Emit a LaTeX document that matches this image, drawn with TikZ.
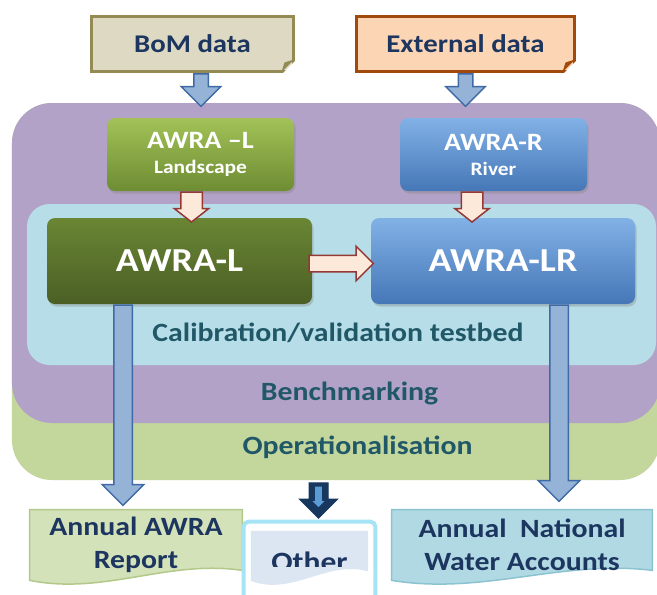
\documentclass[tikz,border=0pt]{standalone}
\usepackage{fontspec}
\setmainfont{Carlito}[FakeStretch=1.13]
\usetikzlibrary{shapes.arrows,shadows,backgrounds,calc}

\definecolor{bomfill}{HTML}{DDD9C3}
\definecolor{bomedge}{HTML}{948A54}
\definecolor{extfill}{HTML}{FCD5B5}
\definecolor{extedge}{HTML}{A14A0C}
\definecolor{labelnavy}{HTML}{1C3660}
\definecolor{bandteal}{HTML}{215868}
\definecolor{benchpurple}{HTML}{B3A2C7}
\definecolor{opgreen}{HTML}{C3D69B}
\definecolor{testblue}{HTML}{B7DEE8}
\definecolor{lgreentop}{HTML}{A2C257}
\definecolor{lgreenbot}{HTML}{6E8C33}
\definecolor{dgreentop}{HTML}{6A8634}
\definecolor{dgreenbot}{HTML}{4B5F25}
\definecolor{mbluetop}{HTML}{82B1E6}
\definecolor{mbluebot}{HTML}{4577B7}
\definecolor{arrowblue}{HTML}{95B3D7}
\definecolor{arrowblueedge}{HTML}{3F6AA5}
\definecolor{arrowpink}{HTML}{FDE9D9}
\definecolor{arrowred}{HTML}{953735}
\definecolor{arrownavy}{HTML}{17375E}
\definecolor{arrowlight}{HTML}{5B9BD5}
\definecolor{reportfill}{HTML}{D4E2BA}
\definecolor{reportedge}{HTML}{B3C98A}
\definecolor{nwafill}{HTML}{B0D9E3}
\definecolor{nwaedge}{HTML}{8CC3D1}
\definecolor{otherfill}{HTML}{DCE6F2}
\definecolor{otherglow}{HTML}{A6E4F5}

% block arrows from a tail point down / right to a target point
\newcommand{\blockdown}[3]{%
  \path let \p1=(#2), \p2=(#3) in
    node[#1, shape border rotate=270, anchor=tail, minimum height={(\y1)-(\y2)}] at (\p1) {};}
\newcommand{\blockright}[3]{%
  \path let \p1=(#2), \p2=(#3) in
    node[#1, shape border rotate=0, anchor=tail, minimum height={(\x2)-(\x1)}] at (\p1) {};}
% page with a wavy bottom behind a node
\newcommand{\docshape}[3]{%
  \filldraw[fill=#2, draw=#3, line width=0.03cm] (#1.north west) -- (#1.north east) -- ([yshift=0.2cm]#1.south east)
    .. controls ($(#1.south east)!0.35!(#1.south west)+(0,0.42)$) and ($(#1.south east)!0.65!(#1.south west)+(0,-0.3)$) .. (#1.south west) -- cycle;}
% folded bottom right corner
\newcommand{\foldcorner}[2]{%
  \fill[white] ([xshift=-0.24cm]#1.south east) -- (#1.south east) -- ([yshift=0.24cm]#1.south east) -- cycle;
  \fill[#2] ([xshift=-0.27cm,yshift=0.02cm]#1.south east) -- ([xshift=-0.02cm,yshift=0.27cm]#1.south east) -- ([xshift=-0.21cm,yshift=0.21cm]#1.south east) -- cycle;}

\begin{document}
\begin{tikzpicture}[
  databox/.style={draw, line width=0.06cm, minimum height=1.1cm, text=labelnavy, font=\fontsize{14.5}{17}\selectfont\bfseries},
  panel/.style={rounded corners=0.8cm, minimum width=12.96cm, inner sep=0pt},
  band/.style={anchor=base, text=bandteal, font=\fontsize{15}{18}\selectfont\bfseries},
  model/.style={rounded corners=0.16cm, text=white, align=center,
    drop shadow={opacity=0.35, shadow xshift=0.03cm, shadow yshift=-0.05cm}},
  lmodel/.style={model, top color=lgreentop, bottom color=lgreenbot},
  dmodel/.style={model, top color=dgreentop, bottom color=dgreenbot},
  bmodel/.style={model, top color=mbluetop, bottom color=mbluebot},
  product/.style={align=center, text=labelnavy, font=\fontsize{15}{19}\selectfont\bfseries, minimum height=1.4cm, inner sep=0pt},
  feedarrow/.style={single arrow, draw=arrowblueedge, fill=arrowblue, line width=0.03cm, inner sep=0.13cm, single arrow head extend=0.25cm},
  longarrow/.style={feedarrow, inner sep=0.17cm, single arrow head extend=0.23cm},
  pinkdown/.style={single arrow, draw=arrowred, fill=arrowpink, line width=0.03cm, inner sep=0.2cm, single arrow head extend=0.13cm, single arrow tip angle=104},
  pinkright/.style={pinkdown, inner sep=0.15cm, single arrow head extend=0.18cm, single arrow tip angle=90},
  navyarrow/.style={single arrow, draw=arrownavy, fill=arrownavy, line width=0.02cm, inner sep=0.18cm, single arrow head extend=0.19cm},
  navystripe/.style={single arrow, fill=arrowlight, inner sep=0.06cm, single arrow head extend=0.05cm}
]
\useasboundingbox (0,0) rectangle (13.14,-11.88);

% nested panels
\node[panel, fill=opgreen, minimum height=7.54cm] (oppanel) at (6.72,-5.83) {};
\node[panel, fill=benchpurple, minimum height=6.4cm] (benchpanel) at (6.72,-5.26) {};
\node[panel, fill=testblue, minimum width=12.58cm, minimum height=3.22cm, rounded corners=0.45cm] (testpanel) at (6.83,-5.69) {};
\node[band] (calib) at (6.76,-6.82) {Calibration/validation testbed};
\node[band] (bench) at (6.99,-8.0) {Benchmarking};
\node[band] (oper) at (7.15,-9.08) {Operationalisation};

% data sources
\node[databox, fill=bomfill, draw=bomedge, minimum width=4.04cm] (bom) at (3.85,-0.88) {BoM data};
\node[databox, fill=extfill, draw=extedge, minimum width=4.36cm] (ext) at (9.31,-0.88) {External data};
\foldcorner{bom}{bomedge}
\foldcorner{ext}{extedge}

% models
\node[lmodel, minimum width=3.74cm, minimum height=1.46cm, font=\fontsize{14.2}{14.2}\selectfont\bfseries] (landscape) at (4.01,-3.09) {AWRA –L\\{\fontsize{10.8}{13}\selectfont Landscape}};
\node[bmodel, minimum width=3.74cm, minimum height=1.46cm, font=\fontsize{14.2}{14.2}\selectfont\bfseries] (river) at (9.87,-3.09) {AWRA-R\\{\fontsize{10.8}{13}\selectfont River}};
\node[dmodel, minimum width=5.3cm, minimum height=1.72cm, font=\fontsize{19.1}{22}\selectfont\bfseries] (awral) at (3.59,-5.22) {AWRA-L};
\node[bmodel, minimum width=5.28cm, minimum height=1.72cm, font=\fontsize{19.1}{22}\selectfont\bfseries] (awralr) at (10.06,-5.22) {AWRA-LR};

% products
\node[product, minimum width=4.24cm] (report) at (2.72,-10.9) {Annual AWRA\\Report};
\node[product, minimum width=5.2cm] (nwa) at (10.44,-10.9) {Annual\ \ National\\Water Accounts};
\node[minimum width=2.3cm, minimum height=0.96cm, inner sep=0pt] (other) at (6.19,-11.12) {};
\begin{scope}[on background layer]
  \docshape{report}{reportfill}{reportedge}
  \docshape{nwa}{nwafill}{nwaedge}
  \filldraw[fill=white, draw=otherglow, line width=0.08cm, rounded corners=0.1cm] ([shift={(-0.16,0.2)}]other.north west) rectangle ([shift={(0.16,-0.4)}]other.south east);
  \docshape{other}{otherfill}{otherfill}
\end{scope}
\begin{scope}
  \clip ([yshift=-0.7cm]other.north west) rectangle (other.north east);
  \node[anchor=base, text=labelnavy, font=\fontsize{15.9}{18}\selectfont\bfseries] (othertext) at (6.19,-11.42) {Other};
\end{scope}

% arrows
\blockdown{feedarrow}{[xshift=0.17cm]bom.south}{[yshift=-0.06cm]benchpanel.north}
\blockdown{feedarrow}{ext.south}{[yshift=-0.06cm]benchpanel.north}
\blockdown{pinkdown}{[xshift=-0.18cm]landscape.south}{[yshift=-0.04cm]awral.north}
\blockdown{pinkdown}{[xshift=-0.43cm]river.south}{[yshift=-0.04cm]awralr.north}
\blockright{pinkright}{[xshift=-0.08cm,yshift=-0.05cm]awral.east}{[xshift=0.04cm]awralr.west}
\blockdown{longarrow}{[xshift=-1.13cm]awral.south}{[yshift=0.1cm]report.north}
\blockdown{longarrow}{[xshift=1.12cm]awralr.south}{[yshift=0.18cm]nwa.north}
\blockdown{navyarrow}{$(other.north |- oppanel.south)+(0.18,-0.04)$}{[yshift=0.28cm]other.north}
\blockdown{navystripe}{$(other.north |- oppanel.south)+(0.18,-0.12)$}{[yshift=0.5cm]other.north}
\end{tikzpicture}
\end{document}
